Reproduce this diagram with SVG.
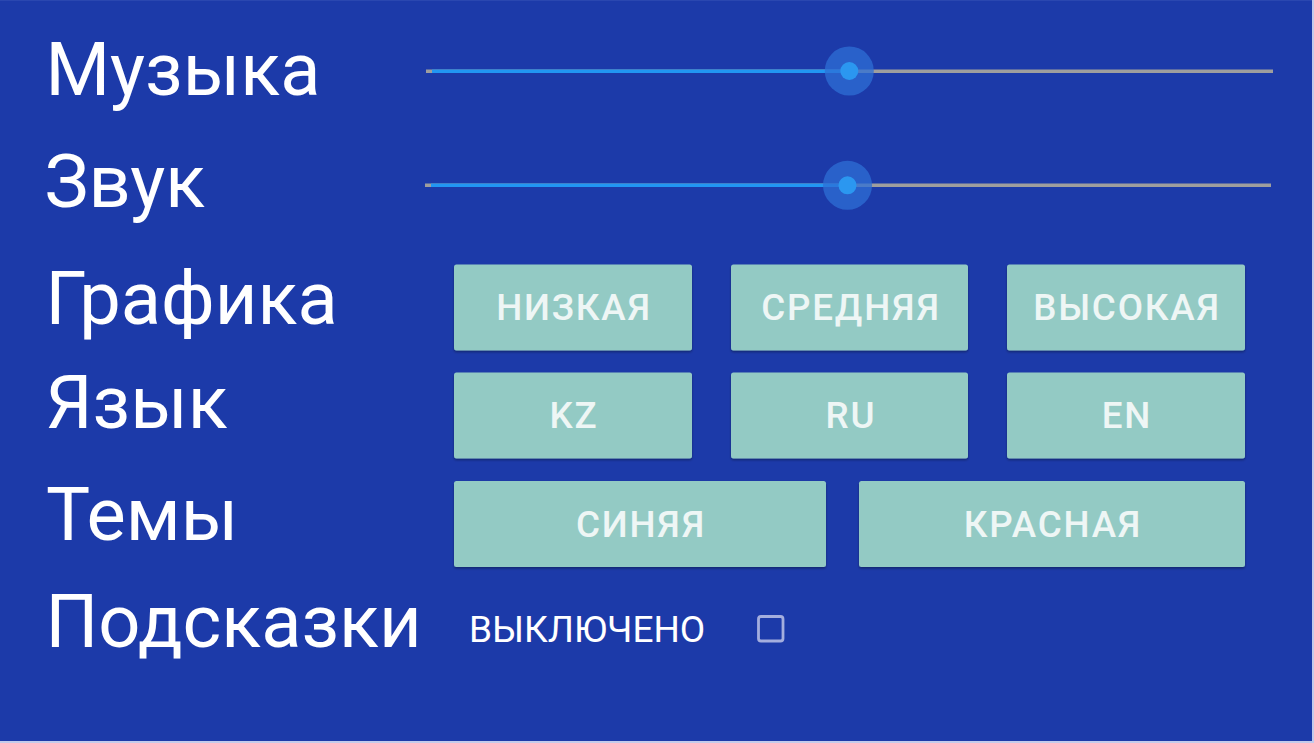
<svg xmlns="http://www.w3.org/2000/svg" width="1314" height="743" viewBox="0 0 1314 743">
<defs>
<style>
.lbl{font-family:Roboto,"Noto Sans",sans-serif;font-size:74px;fill:#ffffff}
.btn rect{fill:#93CAC4}
.btn text{font-family:Roboto,"Noto Sans",sans-serif;font-size:36.75px;font-weight:500;letter-spacing:1.8px;fill:#EEF6F5;text-anchor:middle}
.trk{stroke:#9E9E9E;stroke-width:3.4}
.act{stroke:#2196F3;stroke-width:3.4}
.halo{fill:#2E6FD6;fill-opacity:0.75}
.dot{fill:#2B97F0}
</style>
<filter id="sh" x="-5%" y="-10%" width="110%" height="130%">
<feDropShadow dx="0" dy="1.5" stdDeviation="1" flood-color="#000" flood-opacity="0.35"/>
</filter>
</defs>
<rect x="0" y="0" width="1314" height="743" fill="#C3CBEB"/>
<rect x="0" y="0" width="1312" height="741" fill="#1C3AA9"/>
<rect x="0" y="0" width="1312" height="1" fill="#2A47B0"/>

<g id="label-music"><text class="lbl" x="45.5" y="95">Музыка</text></g>
<g id="label-sound"><text class="lbl" x="44.5" y="207">Звук</text></g>
<g id="label-graphics"><text class="lbl" x="45.5" y="324">Графика</text></g>
<g id="label-language"><text class="lbl" x="45.5" y="428">Язык</text></g>
<g id="label-themes"><text class="lbl" x="46" y="540">Темы</text></g>
<g id="label-hints"><text class="lbl" x="45.5" y="647">Подсказки</text></g>

<g id="slider-music">
<line class="trk" x1="426" y1="71.3" x2="1273" y2="71.3"/>
<line class="act" x1="432" y1="71.3" x2="849" y2="71.3"/>
<circle class="halo" cx="849.3" cy="71" r="24.5"/>
<circle class="dot" cx="849.3" cy="71" r="9"/>
</g>
<g id="slider-sound">
<line class="trk" x1="425" y1="185.3" x2="1271" y2="185.3"/>
<line class="act" x1="431" y1="185.3" x2="847.5" y2="185.3"/>
<circle class="halo" cx="847.5" cy="185.3" r="24.5"/>
<circle class="dot" cx="847.5" cy="185.3" r="9"/>
</g>

<g id="btn-low" class="btn"><rect x="454" y="264.5" width="238" height="86" rx="2.5" filter="url(#sh)"/><text x="574" y="320">НИЗКАЯ</text></g>
<g id="btn-medium" class="btn"><rect x="731" y="264.5" width="237" height="86" rx="2.5" filter="url(#sh)"/><text x="851" y="320">СРЕДНЯЯ</text></g>
<g id="btn-high" class="btn"><rect x="1007" y="264.5" width="238" height="86" rx="2.5" filter="url(#sh)"/><text x="1127" y="320">ВЫСОКАЯ</text></g>

<g id="btn-kz" class="btn"><rect x="454" y="372.5" width="238" height="86" rx="2.5" filter="url(#sh)"/><text x="574" y="428">KZ</text></g>
<g id="btn-ru" class="btn"><rect x="731" y="372.5" width="237" height="86" rx="2.5" filter="url(#sh)"/><text x="851" y="428">RU</text></g>
<g id="btn-en" class="btn"><rect x="1007" y="372.5" width="238" height="86" rx="2.5" filter="url(#sh)"/><text x="1127" y="428">EN</text></g>

<g id="btn-blue" class="btn"><rect x="454" y="481" width="372" height="86" rx="2.5" filter="url(#sh)"/><text x="641" y="537">СИНЯЯ</text></g>
<g id="btn-red" class="btn"><rect x="859" y="481" width="386" height="86" rx="2.5" filter="url(#sh)"/><text x="1053" y="537">КРАСНАЯ</text></g>

<g id="hints-toggle">
<text x="469" y="642" style="font-family:Roboto,'Noto Sans',sans-serif;font-size:37px;fill:#ffffff">ВЫКЛЮЧЕНО</text>
<rect x="758.5" y="616.5" width="24.5" height="24.5" rx="2.5" fill="none" stroke="#A4AEDE" stroke-width="2.8"/>
</g>
<g id="connectors"></g>
</svg>
